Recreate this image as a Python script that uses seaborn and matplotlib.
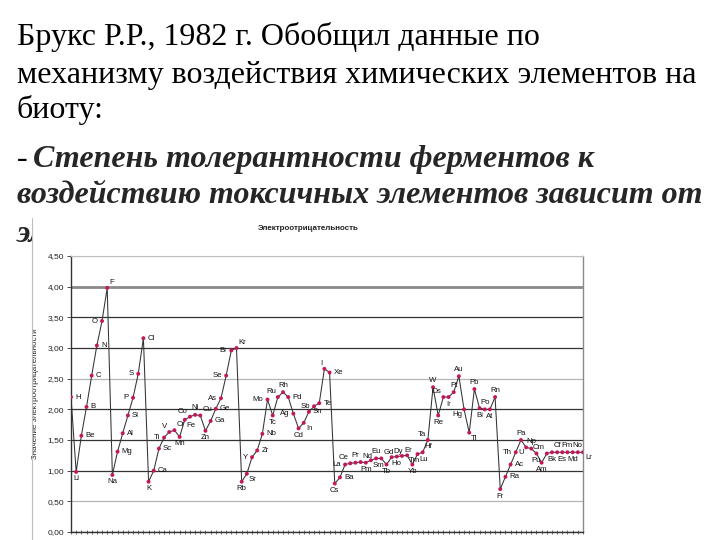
import matplotlib
matplotlib.use("Agg")
import matplotlib.pyplot as plt
import seaborn as sns
import pandas as pd
from matplotlib.ticker import FuncFormatter
from matplotlib.lines import Line2D
from matplotlib.transforms import Bbox, TransformedBbox

# ---------------- data ----------------
elements = ["H",
            "Li", "Be", "B", "C", "N", "O", "F",
            "Na", "Mg", "Al", "Si", "P", "S", "Cl",
            "K", "Ca", "Sc", "Ti", "V", "Cr", "Mn", "Fe", "Co", "Ni", "Cu", "Zn",
            "Ga", "Ge", "As", "Se", "Br", "Kr",
            "Rb", "Sr", "Y", "Zr", "Nb", "Mo", "Tc", "Ru", "Rh", "Pd", "Ag", "Cd",
            "In", "Sn", "Sb", "Te", "I", "Xe",
            "Cs", "Ba", "La", "Ce", "Pr", "Nd", "Pm", "Sm", "Eu", "Gd", "Tb", "Dy",
            "Ho", "Er", "Tm", "Yb", "Lu", "Hf", "Ta", "W", "Re", "Os", "Ir", "Pt",
            "Au", "Hg", "Tl", "Pb", "Bi", "Po", "At", "Rn",
            "Fr", "Ra", "Ac", "Th", "Pa", "U", "Np", "Pu", "Am", "Cm", "Bk", "Cf",
            "Es", "Fm", "Md", "No", "Lr"]
electroneg = [2.20,
              0.98, 1.57, 2.04, 2.55, 3.04, 3.44, 3.98,
              0.93, 1.31, 1.61, 1.90, 2.19, 2.58, 3.16,
              0.82, 1.00, 1.36, 1.54, 1.63, 1.66, 1.55, 1.83, 1.88, 1.91, 1.90, 1.65,
              1.81, 2.01, 2.18, 2.55, 2.96, 3.00,
              0.82, 0.95, 1.22, 1.33, 1.60, 2.16, 1.90, 2.20, 2.28, 2.20, 1.93, 1.69,
              1.78, 1.96, 2.05, 2.10, 2.66, 2.60,
              0.79, 0.89, 1.10, 1.12, 1.13, 1.14, 1.13, 1.17, 1.20, 1.20, 1.10, 1.22,
              1.23, 1.24, 1.25, 1.10, 1.27, 1.30, 1.50, 2.36, 1.90, 2.20, 2.20, 2.28,
              2.54, 2.00, 1.62, 2.33, 2.02, 2.00, 2.00, 2.20,
              0.70, 0.90, 1.10, 1.30, 1.50, 1.38, 1.36, 1.28, 1.13, 1.28, 1.30, 1.30,
              1.30, 1.30, 1.30, 1.30, 1.30]
y_ticks = [0.0, 0.5, 1.0, 1.5, 2.0, 2.5, 3.0, 3.5, 4.0, 4.5]

slide_lines = ["Брукс Р.Р., 1982 г. Обобщил данные по",
               "механизму воздействия химических элементов на",
               "биоту:"]
slide_bold = ["Степень толерантности ферментов к",
              "воздействию токсичных элементов зависит от",
              "эл"]
chart_title = "Электроотрицательность"
y_label = "Значение электроотрицательности"

# label placement codes (layout only)
place = {
    "H": "r", "Li": "b", "Be": "r", "B": "r", "C": "r", "N": "r", "O": "l", "F": "ar",
    "Na": "b", "Mg": "r", "Al": "r", "Si": "r", "P": "l", "S": "l", "Cl": "r",
    "K": "b", "Ca": "r", "Sc": "r", "Ti": "l", "V": "al", "Cr": "ar", "Mn": "b",
    "Fe": "br", "Co": "al", "Ni": "a", "Cu": "ar", "Zn": "b", "Ga": "r", "Ge": "r",
    "As": "l", "Se": "l", "Br": "l", "Kr": "ar",
    "Rb": "b", "Sr": "br", "Y": "l", "Zr": "r", "Nb": "r", "Mo": "l", "Tc": "b",
    "Ru": "al", "Rh": "a", "Pd": "r", "Ag": "l", "Cd": "b", "In": "br", "Sn": "r",
    "Sb": "l", "Te": "r", "I": "al", "Xe": "r",
    "Cs": "b", "Ba": "r", "La": "l", "Ce": "al", "Pr": "a", "Nd": "ar", "Pm": "b",
    "Sm": "br", "Eu": "a", "Gd": "ar", "Tb": "b", "Dy": "ar", "Ho": "b", "Er": "ar",
    "Tm": "br", "Yb": "b", "Lu": "br", "Hf": "ar", "Ta": "al", "W": "a", "Re": "b",
    "Os": "al", "Ir": "b", "Pt": "a", "Au": "a", "Hg": "bl", "Tl": "br", "Pb": "a",
    "Bi": "b", "Po": "a", "At": "b", "Rn": "a",
    "Fr": "b", "Ra": "r", "Ac": "r", "Th": "l", "Pa": "a", "U": "bl", "Np": "a",
    "Pu": "b", "Am": "b", "Cm": "al", "Bk": "b", "Cf": "a", "Es": "b", "Fm": "a",
    "Md": "b", "No": "a", "Lr": "br",
}
offs = {"r": ((3, 0), "left", "center"), "l": ((-3, 0), "right", "center"),
        "a": ((0, 2.5), "center", "bottom"), "b": ((0, -2.5), "center", "top"),
        "ar": ((1.5, 1.5), "left", "bottom"), "al": ((-1.5, 1.5), "right", "bottom"),
        "br": ((1.5, -1.5), "left", "top"), "bl": ((-1.5, -1.5), "right", "top")}

df = pd.DataFrame({"pos": list(range(len(elements))), "el": elements, "en": electroneg})

# ---------------- figure ----------------
sns.set_theme(style="white")
plt.rcParams["font.family"] = ["Liberation Sans", "DejaVu Sans"]
fig = plt.figure(figsize=(7.2, 5.4), dpi=100)
fig.patch.set_facecolor("white")

def fx(px):
    return px / 720.0

def fy(py):
    return 1 - py / 540.0

serif = ["Liberation Serif", "DejaVu Serif"]
FS = 23
base_y = [45, 83, 118]
for txt, by in zip(slide_lines, base_y):
    fig.text(fx(17), fy(by), txt, fontsize=FS, family=serif, va="baseline",
             ha="left", color="black")
fig.text(fx(17), fy(167), "-", fontsize=FS, family=serif, va="baseline",
         ha="left", color="black")
fig.text(fx(33), fy(167), slide_bold[0], fontsize=FS, family=serif,
         weight="bold", style="italic", va="baseline", ha="left")
fig.text(fx(17), fy(203), slide_bold[1], fontsize=FS, family=serif,
         weight="bold", style="italic", va="baseline", ha="left")
last = fig.text(fx(17), fy(242), slide_bold[2], fontsize=FS, family=serif,
                weight="bold", style="italic", va="baseline", ha="left")
# the chart picture covers the rest of this line
last.set_clip_box(TransformedBbox(Bbox([[0, 0], [fx(32), 1]]), fig.transFigure))
last.set_clip_on(True)

fig.lines.append(Line2D([fx(32), fx(32)], [0, fy(218)], transform=fig.transFigure,
                        color="#bdbdbd", lw=0.8))

ax = fig.add_axes([fx(71), fy(532), fx(583) - fx(71), fy(256) - fy(532)])
ax.set_facecolor("white")

sns.lineplot(data=df, x="pos", y="en", ax=ax, color="#333333", lw=0.75, zorder=3,
             estimator=None, sort=False)
sns.scatterplot(data=df, x="pos", y="en", ax=ax, color="#c2185b", s=8,
                edgecolor="none", zorder=4, legend=False)

for _, r in df.iterrows():
    (dx, dy), ha, va = offs[place.get(r["el"], "r")]
    ax.annotate(r["el"], (r["pos"], r["en"]), xytext=(dx, dy), textcoords="offset points",
                ha=ha, va=va, fontsize=5.6, color="#111111", zorder=5)

ax.set_xlim(0, len(elements) - 1)
ax.set_ylim(y_ticks[0], y_ticks[-1])
ax.set_yticks(y_ticks)
ax.yaxis.set_major_formatter(FuncFormatter(lambda v, p: f"{v:.2f}".replace(".", ",")))
ax.set_xticks(list(range(len(elements))))
ax.set_xticklabels([])
ax.tick_params(axis="x", direction="inout", length=3, width=0.5, color="#333333",
               bottom=True)
ax.tick_params(axis="y", direction="out", length=3, width=0.6, color="#333333",
               labelsize=6, labelcolor="#222222", left=True, pad=2)
ax.set_xlabel("")
ax.set_ylabel(y_label, fontsize=5.8, color="#222222", labelpad=6)

ax.yaxis.grid(True)
for val, gl in zip(y_ticks, ax.get_ygridlines()):
    if abs(val - 4.0) < 1e-9:
        gl.set_color("#8a8a8a"); gl.set_linewidth(2.0)
    elif val in (0.5, 2.5, 4.5):
        gl.set_color("#b5b5b5"); gl.set_linewidth(0.9)
    else:
        gl.set_color("#333333"); gl.set_linewidth(0.9)
ax.xaxis.grid(False)

for s in ("left", "bottom"):
    ax.spines[s].set_color("#333333"); ax.spines[s].set_linewidth(1.0)
ax.spines["right"].set_color("#8a8a8a"); ax.spines["right"].set_linewidth(1.0)
ax.spines["top"].set_color("#c0c0c0"); ax.spines["top"].set_linewidth(0.8)

fig.text(fx(308), fy(228), chart_title, fontsize=5.8, weight="bold", ha="center",
         va="center", color="#222222")

fig.savefig("out.png", dpi=100)
